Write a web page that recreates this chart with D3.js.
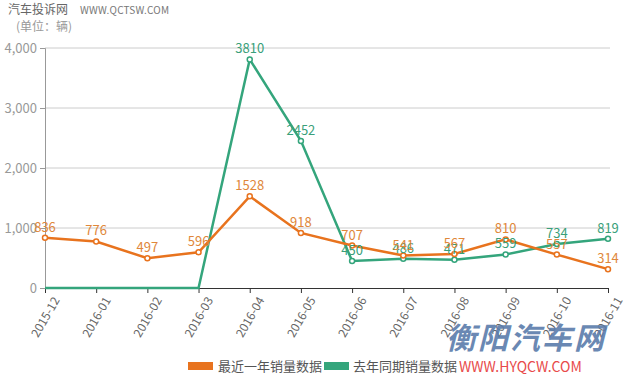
<!DOCTYPE html>
<html><head><meta charset="utf-8">
<script src="https://cdn.jsdelivr.net/npm/d3@7"></script>
<style>
body{margin:0;background:#fff;}
svg{display:block;}
text{font-family:"Microsoft YaHei","Noto Sans CJK SC","Noto Sans",sans-serif;}
</style></head>
<body><svg id="c" width="629" height="381"></svg>
<script>
const categories = ["2015-12","2016-01","2016-02","2016-03","2016-04","2016-05","2016-06","2016-07","2016-08","2016-09","2016-10","2016-11"];
const recentSales = [836,776,497,596,1528,918,707,541,567,810,557,314];
const lastYearSales = [0,0,0,0,3810,2452,450,486,471,559,734,819];
const yTicks = [0,1000,2000,3000,4000];
const seriesNames = ["最近一年销量数据","去年同期销量数据"];
const colors = ["#e8731e","#34a57c"];
const labelColors = ["#e0873a","#3a9f7a"];

(function(){
const svg = d3.select("#c");
const pl = 45, pr = 608, pt = 48, pb = 288;
const x = d3.scalePoint().domain(categories).range([pl, pr]);
const y = d3.scaleLinear().domain([0,4000]).range([pb, pt]);

// title
svg.append("text").attr("x",8).attr("y",14).attr("font-size",12).attr("fill","#666")
  .text("汽车投诉网");
svg.append("text").attr("x",80).attr("y",14).attr("font-size",10).attr("fill","#777")
  .attr("font-family","DejaVu Sans Mono, monospace").attr("letter-spacing","0.2")
  .text("WWW.QCTSW.COM");
svg.append("text").attr("x",16).attr("y",31).attr("font-size",12).attr("fill","#999")
  .text("(单位：辆)");

// grid
svg.append("g").selectAll("line").data(yTicks.filter(d=>d>0)).join("line")
  .attr("x1",pl).attr("x2",610).attr("y1",d=>y(d)).attr("y2",d=>y(d))
  .attr("stroke","#ccc").attr("stroke-width",1);

// y axis
const yAxis = svg.append("g").attr("transform",`translate(${pl},0)`)
  .call(d3.axisLeft(y).tickValues(yTicks).tickFormat(d3.format(",")).tickSize(5).tickPadding(3));
yAxis.select(".domain").attr("stroke","#999");
yAxis.selectAll(".tick line").attr("stroke","#999");
yAxis.selectAll("text").attr("fill","#999").attr("font-size",13).attr("font-family","Liberation Sans, Arial, sans-serif");

// x axis
const xAxis = svg.append("g").attr("transform",`translate(0,${pb})`)
  .call(d3.axisBottom(x).tickSize(5).tickSizeOuter(0));
xAxis.select(".domain").attr("stroke","#333");
xAxis.selectAll(".tick line").attr("stroke","#333");
xAxis.selectAll("text").attr("fill","#666").attr("font-size",12)
  .attr("text-anchor","end").attr("dy","0.35em")
  .attr("transform","translate(4,6) rotate(-60)");

const series = [recentSales, lastYearSales];
const line = d3.line().x((d,i)=>x(categories[i])).y(d=>y(d));
[1,0].forEach(s=>{
  const g = svg.append("g");
  g.append("path").datum(series[s]).attr("d",line).attr("fill","none")
    .attr("stroke",colors[s]).attr("stroke-width",2.5);
  const pts = series[s].map((v,i)=>({v,c:categories[i]})).filter(d=>d.v>0);
  g.selectAll("circle").data(pts).join("circle")
    .attr("cx",d=>x(d.c)).attr("cy",d=>y(d.v)).attr("r",2.5)
    .attr("fill","#fff").attr("stroke",colors[s]).attr("stroke-width",1.5);
});
[1,0].forEach(s=>{
  const pts = series[s].map((v,i)=>({v,c:categories[i]})).filter(d=>d.v>0);
  svg.append("g").selectAll("text").data(pts).join("text")
    .attr("x",d=>x(d.c)).attr("y",d=>y(d.v)-6).attr("text-anchor","middle")
    .attr("font-size",13).attr("fill",labelColors[s]).text(d=>d.v);
});

// legend
const leg = [{x:188,t:218},{x:324,t:353}];
leg.forEach((l,i)=>{
  svg.append("rect").attr("x",l.x).attr("y",362).attr("width",25).attr("height",8).attr("fill",colors[i]);
  svg.append("text").attr("x",l.t).attr("y",371).attr("font-size",13).attr("fill","#555").text(seriesNames[i]);
});

// watermark
svg.append("text").attr("x",446).attr("y",349).attr("font-size",30).attr("font-weight","bold")
  .attr("font-style","italic").attr("fill","#5a7cab").attr("opacity",0.9).attr("letter-spacing","2").text("衡阳汽车网");
svg.append("text").attr("x",459).attr("y",372).attr("font-size",14).attr("fill","#e84a4a")
  .attr("font-family","Liberation Sans, Arial, sans-serif").text("WWW.HYQCW.COM");
})();
</script></body></html>
